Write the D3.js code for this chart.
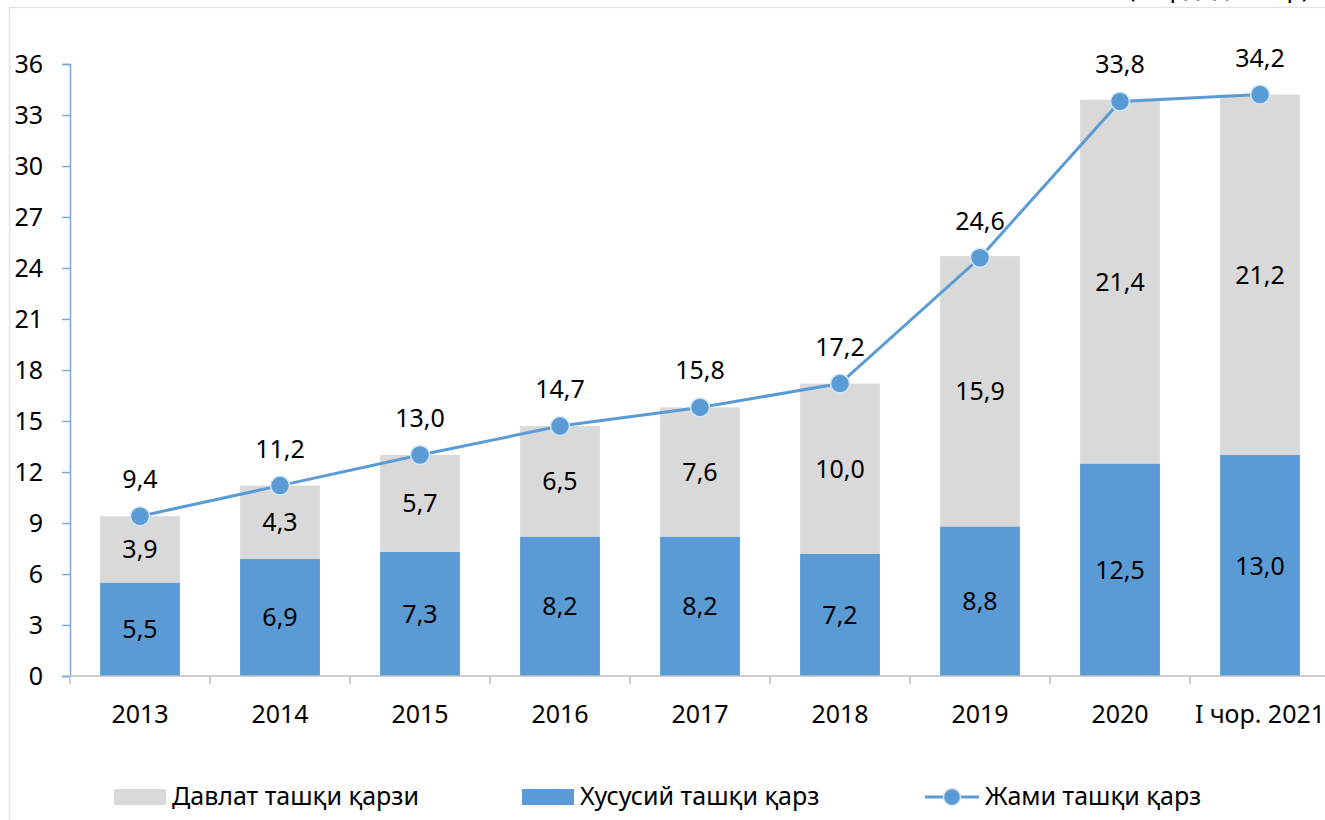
<!DOCTYPE html>
<html lang="uz">
<head>
    <meta charset="UTF-8">
    <title>Ташқи қарз</title>
    <script src="https://cdn.jsdelivr.net/npm/d3@7/dist/d3.min.js"></script>
    <style>
        body { margin: 0; background: #fff; }
        svg text { font-family: "Noto Sans", "Open Sans", sans-serif; fill: #000; font-size: 25px; }
    </style>
</head>
<body>
<div id="chart"></div>
<script>
    // data
    var years = ["2013", "2014", "2015", "2016", "2017", "2018", "2019", "2020", "I чор. 2021"];
    var xususiy = [5.5, 6.9, 7.3, 8.2, 8.2, 7.2, 8.8, 12.5, 13.0];
    var davlat = [3.9, 4.3, 5.7, 6.5, 7.6, 10.0, 15.9, 21.4, 21.2];
    var jami = [9.4, 11.2, 13.0, 14.7, 15.8, 17.2, 24.6, 33.8, 34.2];
    var yTicks = [0, 3, 6, 9, 12, 15, 18, 21, 24, 27, 30, 33, 36];

    var blue = "#5b9bd5", grey = "#d9d9d9";
    var W = 1325, H = 820;
    var fmt = function(v) { return v.toFixed(1).replace(".", ","); };

    var svg = d3.select("#chart").append("svg")
        .attr("width", W).attr("height", H);

    // frame + unit note (cut off at the top in the original)
    svg.append("line").attr("x1", 9).attr("x2", W).attr("y1", 7.5).attr("y2", 7.5)
        .attr("stroke", "#e3e3e3").attr("stroke-width", 1.5);
    svg.append("line").attr("x1", 9.5).attr("x2", 9.5).attr("y1", 7).attr("y2", H)
        .attr("stroke", "#e3e3e3").attr("stroke-width", 1.5);
    svg.append("text").attr("x", 1128).attr("y", -3)
        .text("(млрд. доллар)");

    var x = d3.scaleBand().domain(years).range([70, 1330]).paddingInner(0.43).paddingOuter(0.215);
    var y = d3.scaleLinear().domain([0, 36]).range([676, 64]);

    // y axis
    var yAxis = svg.append("g").attr("transform", "translate(70,0)")
        .call(d3.axisLeft(y).tickValues(yTicks).tickSize(8).tickPadding(19));
    yAxis.select(".domain").attr("stroke", "#7aa9db").attr("stroke-width", 1.5);
    yAxis.selectAll(".tick line").attr("stroke", "#7aa9db").attr("stroke-width", 1.5);
    yAxis.selectAll("text").attr("fill", "#000").style("font-size", "25px")
        .style("font-family", "'Noto Sans', sans-serif");

    // stacks
    var stacked = years.map(function(d, i) {
        return { year: d, p: xususiy[i], g: davlat[i], t: jami[i] };
    });

    svg.selectAll("rect.priv").data(stacked).enter().append("rect")
        .attr("class", "priv")
        .attr("x", function(d) { return x(d.year); })
        .attr("width", x.bandwidth())
        .attr("y", function(d) { return y(d.p); })
        .attr("height", function(d) { return y(0) - y(d.p); })
        .attr("fill", blue);

    svg.selectAll("rect.gov").data(stacked).enter().append("rect")
        .attr("class", "gov")
        .attr("x", function(d) { return x(d.year); })
        .attr("width", x.bandwidth())
        .attr("y", function(d) { return y(d.p + d.g); })
        .attr("height", function(d) { return y(d.p) - y(d.p + d.g); })
        .attr("fill", grey);

    // x axis
    svg.append("line").attr("x1", 70).attr("x2", W).attr("y1", y(0)).attr("y2", y(0))
        .attr("stroke", "#bfbfbf").attr("stroke-width", 1.5);
    var step = x.step();
    svg.selectAll("line.xt").data(d3.range(years.length + 1)).enter().append("line")
        .attr("class", "xt")
        .attr("x1", function(i) { return 70 + i * step; })
        .attr("x2", function(i) { return 70 + i * step; })
        .attr("y1", y(0)).attr("y2", y(0) + 8)
        .attr("stroke", "#bfbfbf").attr("stroke-width", 1.5);
    svg.selectAll("text.xl").data(years).enter().append("text")
        .attr("class", "xl")
        .attr("x", function(d) { return x(d) + x.bandwidth() / 2; })
        .attr("y", 723).attr("text-anchor", "middle")
        .text(function(d) { return d; });

    // segment labels
    svg.selectAll("text.pl").data(stacked).enter().append("text")
        .attr("class", "pl")
        .attr("x", function(d) { return x(d.year) + x.bandwidth() / 2; })
        .attr("y", function(d) { return (y(0) + y(d.p)) / 2 + 9; })
        .attr("text-anchor", "middle")
        .text(function(d) { return fmt(d.p); });
    svg.selectAll("text.gl").data(stacked).enter().append("text")
        .attr("class", "gl")
        .attr("x", function(d) { return x(d.year) + x.bandwidth() / 2; })
        .attr("y", function(d) { return (y(d.p) + y(d.p + d.g)) / 2 + 9; })
        .attr("text-anchor", "middle")
        .text(function(d) { return fmt(d.g); });

    // line
    var cx = function(d) { return x(d.year) + x.bandwidth() / 2; };
    svg.append("path").datum(stacked)
        .attr("d", d3.line().x(cx).y(function(d) { return y(d.t); }))
        .attr("fill", "none").attr("stroke", blue).attr("stroke-width", 3);
    svg.selectAll("circle.pt").data(stacked).enter().append("circle")
        .attr("class", "pt")
        .attr("cx", cx).attr("cy", function(d) { return y(d.t); })
        .attr("r", 9.5).attr("fill", blue).attr("stroke", "#d6e6f5").attr("stroke-width", 1.5);
    svg.selectAll("text.tl").data(stacked).enter().append("text")
        .attr("class", "tl")
        .attr("x", cx).attr("y", function(d) { return y(d.t) - 28; })
        .attr("text-anchor", "middle")
        .text(function(d) { return fmt(d.t); });

    // legend
    var lg = svg.append("g").attr("transform", "translate(0,797)");
    lg.append("rect").attr("x", 114).attr("y", -8).attr("width", 52).attr("height", 16).attr("fill", grey);
    lg.append("text").attr("x", 172).attr("y", 8).text("Давлат ташқи қарзи");
    lg.append("rect").attr("x", 522).attr("y", -8).attr("width", 52).attr("height", 16).attr("fill", blue);
    lg.append("text").attr("x", 580).attr("y", 8).text("Хусусий ташқи қарз");
    lg.append("line").attr("x1", 925).attr("x2", 979).attr("y1", 0).attr("y2", 0)
        .attr("stroke", blue).attr("stroke-width", 3);
    lg.append("circle").attr("cx", 952).attr("cy", 0).attr("r", 8.5)
        .attr("fill", blue).attr("stroke", "#d6e6f5").attr("stroke-width", 1.5);
    lg.append("text").attr("x", 985).attr("y", 8).text("Жами ташқи қарз");
</script>
</body>
</html>
